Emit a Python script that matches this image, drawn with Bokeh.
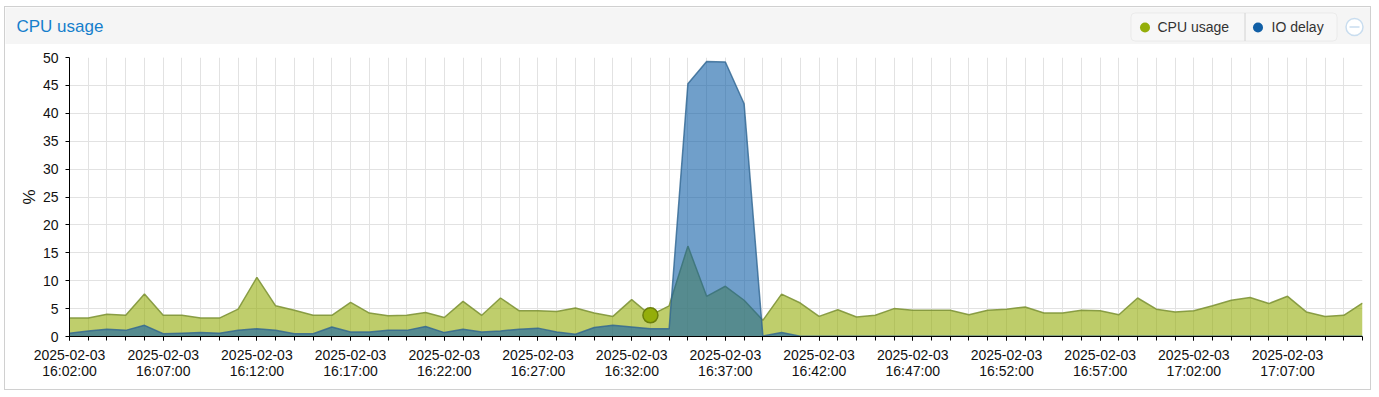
import pandas as pd
from bokeh.plotting import figure
from bokeh.layouts import column, row
from bokeh.models import (Range1d, FixedTicker, DatetimeTickFormatter,
                          BoxAnnotation)
from bokeh.core.properties import value
from bokeh.embed import file_html
from bokeh.resources import INLINE

# ---------------- data ----------------
start_time = "2025-02-03 16:02:00"
n_points = 70  # one sample per minute, 16:02 .. 17:11

cpu_usage = [3.3, 3.3, 4.0, 3.8, 7.6, 3.8, 3.8, 3.3, 3.3, 4.9,
             10.6, 5.5, 4.7, 3.8, 3.8, 6.1, 4.2, 3.7, 3.8, 4.3,
             3.4, 6.3, 3.8, 6.9, 4.6, 4.6, 4.5, 5.1, 4.2, 3.6,
             6.6, 3.8, 5.5, 16.2, 7.2, 9.0, 6.5, 2.9, 7.6, 6.0,
             3.6, 4.8, 3.5, 3.8, 5.0, 4.7, 4.7, 4.7, 3.9, 4.7,
             4.9, 5.3, 4.2, 4.2, 4.7, 4.6, 3.9, 6.9, 4.9, 4.4,
             4.6, 5.5, 6.5, 7.0, 5.9, 7.2, 4.4, 3.6, 3.8, 6.0]

io_delay = [0.6, 1.0, 1.3, 1.1, 2.0, 0.5, 0.6, 0.7, 0.6, 1.1,
            1.4, 1.1, 0.5, 0.5, 1.7, 0.8, 0.8, 1.1, 1.1, 1.8,
            0.7, 1.3, 0.8, 1.0, 1.3, 1.5, 0.8, 0.4, 1.6, 2.0,
            1.7, 1.4, 1.4, 45.3, 49.3, 49.2, 41.7, 0.1, 0.7, 0.05,
            0.03, 0.03, 0.03, 0.03, 0.03, 0.03, 0.03, 0.03, 0.03, 0.03,
            0.03, 0.03, 0.03, 0.03, 0.03, 0.03, 0.03, 0.03, 0.03, 0.03,
            0.03, 0.03, 0.03, 0.03, 0.03, 0.03, 0.03, 0.03, 0.03, 0.03]

hover_index = 31
title_text = "CPU usage"
series_names = ["CPU usage", "IO delay"]
y_ticks = [0, 5, 10, 15, 20, 25, 30, 35, 40, 45, 50]

times = pd.date_range(start_time, periods=n_points, freq="1min")
times_ms = [t.value // 10**6 for t in times]

CPU_COLOR = "#94ae0a"
IO_COLOR = "#115fa6"
FONT = "Liberation Sans"

W = 1365
LEFT, RIGHT = 64, 8

# ---------------- header (title + legend) ----------------
# header frame covers the whole header; data units = page px
h = figure(width=W, height=37, x_range=Range1d(5, 5 + W), y_range=Range1d(44, 7),
           toolbar_location=None, output_backend="svg", min_border=0,
           x_axis_location=None, y_axis_location=None,
           outline_line_color=None, background_fill_color="#f5f5f5",
           border_fill_color="#f5f5f5")
h.grid.visible = False

h.text(x=[16], y=[25.5], text=[title_text], text_font=value(FONT),
       text_font_size="17px", text_color="#157fcc", text_baseline="middle")

h.add_layout(BoxAnnotation(left=1130.5, right=1336.5, top=12.5, bottom=40.5,
                           fill_color="#f7f7f7", fill_alpha=1,
                           line_color="#d2d2d2", line_width=1,
                           border_radius=4, level="underlay"))
h.segment(x0=[1244.5], y0=[12.5], x1=[1244.5], y1=[40.5], line_color="#d2d2d2")
h.scatter(x=[1144.5, 1257.5], y=[27, 27], size=10,
          fill_color=[CPU_COLOR, IO_COLOR], line_color=None)
h.text(x=[1157, 1271], y=[26.5, 26.5], text=series_names,
       text_font=value(FONT), text_font_size="14px", text_color="#333333",
       text_baseline="middle")
h.scatter(x=[1354], y=[26.5], size=17, fill_color="white",
          line_color="#c9ddef", line_width=1.5)
h.segment(x0=[1349], y0=[26.5], x1=[1359], y1=[26.5], line_color="#c9ddef",
          line_width=1.5)

# ---------------- main chart ----------------
p = figure(width=W, height=345, x_axis_type="datetime",
           x_range=Range1d(times_ms[0], times_ms[-1]), y_range=Range1d(0, 50),
           toolbar_location=None, output_backend="svg",
           min_border_left=LEFT, min_border_right=RIGHT, min_border_top=13,
           min_border_bottom=53, outline_line_color=None,
           background_fill_color="white", border_fill_color="white")

p.varea(x=times, y1=0, y2=cpu_usage, fill_color=CPU_COLOR, fill_alpha=0.6)
p.line(x=times, y=cpu_usage, line_color="#7f9539", line_width=1.5, line_alpha=0.9)
p.varea(x=times, y1=0, y2=io_delay, fill_color=IO_COLOR, fill_alpha=0.6)
p.line(x=times, y=io_delay, line_color="#2f6591", line_width=1.5, line_alpha=0.8)
p.scatter(x=[times[hover_index]], y=[cpu_usage[hover_index]], size=15,
          fill_color=CPU_COLOR, line_color="#6b7f0a", line_width=1.5)

fmt = "%Y-%m-%d\n%H:%M:%S"
p.xaxis.ticker = FixedTicker(ticks=times_ms[::5], minor_ticks=times_ms)
p.xaxis.formatter = DatetimeTickFormatter(
    milliseconds=fmt, seconds=fmt, minsec=fmt, minutes=fmt, hourmin=fmt,
    hours=fmt, days=fmt, months=fmt, years=fmt)
p.yaxis.ticker = FixedTicker(ticks=y_ticks)

for ax in (p.xaxis, p.yaxis):
    ax.axis_line_color = "black"
    ax.axis_line_width = 1
    ax.major_tick_line_color = "black"
    ax.major_tick_out = 4
    ax.major_tick_in = 0
    ax.minor_tick_line_color = "black"
    ax.minor_tick_out = 4
    ax.minor_tick_in = 0
    ax.major_label_text_font = FONT
    ax.major_label_text_font_size = "14px"
    ax.major_label_text_color = "#111111"
p.yaxis.minor_tick_line_color = None
p.xaxis.major_label_standoff = 6
p.xaxis.major_label_text_line_height = 1.0
p.yaxis.major_label_standoff = 7
p.yaxis.axis_label = "%"
p.yaxis.axis_label_text_font = FONT
p.yaxis.axis_label_text_font_size = "17px"
p.yaxis.axis_label_text_font_style = "normal"
p.yaxis.axis_label_text_color = "#111111"
p.yaxis.axis_label_standoff = 1

p.xgrid.grid_line_color = "#e2e2e2"
p.xgrid.minor_grid_line_color = "#e2e2e2"
p.ygrid.grid_line_color = "#e2e2e2"

layout = column(row(h, spacing=0), p, spacing=0,
                styles={"border": "1px solid #d0d0d0",
                        "margin-left": "4px", "margin-top": "6px"})

open("out.html", "w").write(file_html(layout, INLINE))
